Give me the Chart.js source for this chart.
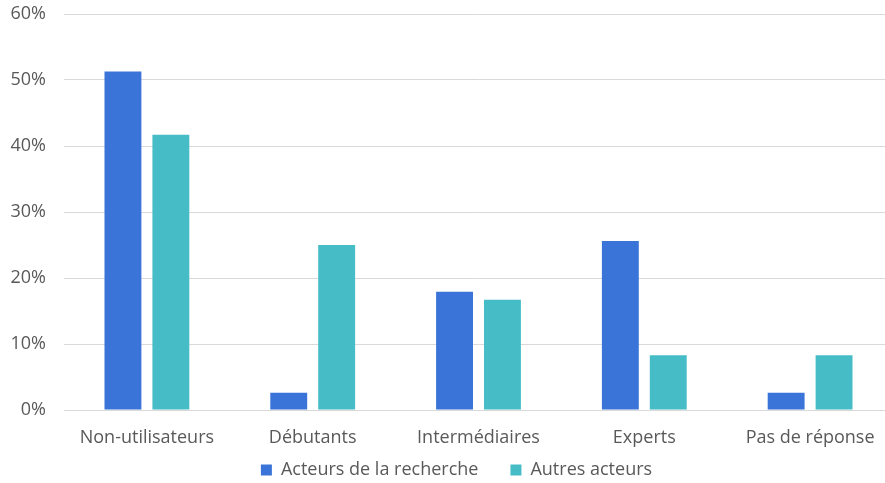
<!DOCTYPE html>
<html><head><meta charset="utf-8">
<script src="https://cdn.jsdelivr.net/npm/chart.js@4/dist/chart.umd.min.js"></script>
<style>html,body{margin:0;padding:0;overflow:hidden;background:#fff}#wrap{width:893px;height:483px;position:relative}</style>
</head><body><div id="wrap"><canvas id="c"></canvas></div>
<script>
const categories = ["Non-utilisateurs", "Débutants", "Intermédiaires", "Experts", "Pas de réponse"];
const seriesNames = ["Acteurs de la recherche", "Autres acteurs"];
const recherche = [51.3, 2.6, 17.9, 25.6, 2.6];
const autres = [41.7, 25.0, 16.7, 8.3, 8.3];
const yTicks = [0, 10, 20, 30, 40, 50, 60];

const font = {family: "'Open Sans', Lato, sans-serif", size: 18};
const LEGEND_PAD = 32;
const legendTweak = {
  id: 'legendTweak',
  afterInit(chart) {
    const lg = chart.legend;
    const fit = lg.fit.bind(lg);
    lg.fit = function () { fit(); this.height = 28; };
    const inner = lg._draw.bind(lg);
    lg._draw = function () {
      const c = this.ctx; c.save(); c.translate(10, -26); inner(); c.restore();
    };
  }
};
new Chart(document.getElementById('c'), {
  type: 'bar',
  data: {
    labels: categories,
    datasets: [
      {label: seriesNames[0], data: recherche, backgroundColor: '#3a74d8', categoryPercentage: 0.578, barPercentage: 0.77},
      {label: seriesNames[1], data: autres, backgroundColor: '#46bdc6', categoryPercentage: 0.578, barPercentage: 0.77}
    ]
  },
  options: {
    responsive: true, maintainAspectRatio: false, animation: false,
    layout: {padding: {top: 14, right: 0, bottom: 0, left: 0}},
    plugins: {
      tooltip: {enabled: false},
      legend: {position: 'bottom', labels: {boxWidth: 11, boxHeight: 11, color: '#595959', font: font, padding: LEGEND_PAD}}
    },
    scales: {
      x: {
        grid: {display: false, drawTicks: false},
        border: {color: '#d9d9d9'},
        ticks: {color: '#595959', font: font, padding: 17, maxRotation: 0},
        afterFit: s => { s.height = 45; s.paddingLeft = 0; s.paddingRight = 0; }
      },
      y: {
        min: 0, max: 60,
        afterBuildTicks: s => { s.ticks = yTicks.map(v => ({value: v})); },
        afterFit: s => { s.width = 64; s.paddingTop = 0; s.paddingBottom = 0; },
        grid: {color: '#d9d9d9', drawTicks: false},
        border: {display: false},
        ticks: {color: '#595959', font: font, padding: 18, callback: v => v + '%'}
      }
    }
  },
  plugins: [legendTweak]
});
</script></body></html>
